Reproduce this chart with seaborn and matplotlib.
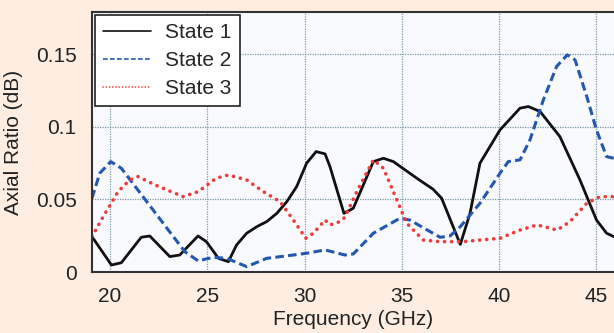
import numpy as np
import pandas as pd
import matplotlib
matplotlib.use("Agg")
import matplotlib.pyplot as plt
import seaborn as sns

# ---- data ----
s1_freq = [19.07, 20.07, 20.58, 21.6, 22.04, 23.07, 23.58, 24.52, 24.95, 25.57, 26.08, 26.5,
           27.02, 27.54, 28.05, 28.57, 29.08, 29.59, 30.1, 30.59, 31.05, 31.3, 32.02, 32.5,
           33.53, 34.05, 34.56, 35.76, 36.6, 37.04, 38.0, 38.5, 39.01, 40.04, 41.07, 41.5,
           42.1, 43.12, 44.15, 45.0, 45.52, 45.9]
s1_ar = [0.0243, 0.0048, 0.0064, 0.0239, 0.0248, 0.0106, 0.0117, 0.0248, 0.0209, 0.0094, 0.0071, 0.0186,
         0.0267, 0.0312, 0.0347, 0.0404, 0.0484, 0.0588, 0.0749, 0.0829, 0.0813, 0.0726, 0.0404, 0.0439,
         0.076, 0.0783, 0.076, 0.0646, 0.057, 0.0508, 0.0190, 0.0404, 0.0749, 0.0978, 0.1128, 0.1139,
         0.1105, 0.0932, 0.0634, 0.0358, 0.0267, 0.0243]

s2_freq = [19.07, 19.47, 20.03, 20.58, 23.84, 24.52, 25.31, 26.0, 27.02, 28.05, 29.42, 30.1,
           31.05, 32.07, 32.5, 33.53, 34.9, 35.4, 36.96, 37.47, 38.0, 39.01, 40.04, 40.47,
           41.07, 41.58, 42.27, 42.95, 43.5, 43.9, 44.5, 45.0, 45.52, 45.9]
s2_ar = [0.0508, 0.068, 0.076, 0.0714, 0.014, 0.0077, 0.0101, 0.0094, 0.0037, 0.0094, 0.0117, 0.0129,
         0.0152, 0.0117, 0.0124, 0.0267, 0.037, 0.0358, 0.0239, 0.0248, 0.0312, 0.0473, 0.068, 0.076,
         0.0772, 0.0909, 0.1185, 0.1415, 0.1495, 0.146, 0.1208, 0.0978, 0.0794, 0.0783]

s3_freq = [19.07, 19.64, 20.41, 21.01, 21.44, 22.3, 23.75, 24.52, 25.46, 26.08, 27.02, 27.88,
           28.74, 29.42, 30.06, 30.45, 31.05, 31.3, 31.82, 32.07, 32.68, 33.53, 34.05, 34.56,
           35.25, 36.1, 36.96, 38.16, 39.01, 40.04, 41.07, 41.95, 42.98, 43.64, 44.5, 45.18, 45.9]
s3_ar = [0.0243, 0.038, 0.0553, 0.0634, 0.0657, 0.06, 0.0519, 0.0553, 0.0646, 0.0668, 0.0634, 0.0553,
         0.0484, 0.0358, 0.0232, 0.0267, 0.0358, 0.0324, 0.0347, 0.0377, 0.0553, 0.0772, 0.0714, 0.0553,
         0.0335, 0.022, 0.0209, 0.0209, 0.022, 0.0232, 0.0289, 0.0324, 0.0289, 0.0347, 0.0473, 0.0519, 0.0519]

labels = ["State 1", "State 2", "State 3"]
x_ticks = [20, 25, 30, 35, 40, 45]
y_ticks = [0, 0.05, 0.1, 0.15]
y_ticklabels = ["0", "0.05", "0.1", "0.15"]

df = pd.concat([
    pd.DataFrame({"Frequency": s1_freq, "AR": s1_ar, "State": labels[0]}),
    pd.DataFrame({"Frequency": s2_freq, "AR": s2_ar, "State": labels[1]}),
    pd.DataFrame({"Frequency": s3_freq, "AR": s3_ar, "State": labels[2]}),
], ignore_index=True)

sns.set_theme(style="white")
plt.rcParams["font.family"] = ["Liberation Sans", "DejaVu Sans"]

bg = "#FDEEE1"
fs = 15
fig = plt.figure(figsize=(6.14, 3.33), dpi=100, facecolor=bg)
ax = fig.add_axes([92/614, 1 - 272/333, 1 - 92/614, (272 - 12)/333])
ax.set_facecolor("#F9FAFE")

colors = {labels[0]: "#111111", labels[1]: "#2458B0", labels[2]: "#EE3B3B"}
styles = {labels[0]: "-", labels[1]: (0, (2.8, 1.4)), labels[2]: (0, (0.05, 1.9))}

for lab in labels:
    sub = df[df["State"] == lab]
    sns.lineplot(data=sub, x="Frequency", y="AR", ax=ax, color=colors[lab],
                 lw=2.2 if lab != labels[0] else 2.0, label=lab, sort=False,
                 estimator=None)
    line = ax.get_lines()[-1]
    line.set_linestyle(styles[lab])
    if lab == labels[2]:
        line.set_dash_capstyle("round")
        line.set_linewidth(2.6)

ax.set_xlim(19.07, 45.9)
ax.set_ylim(0, 0.179)
ax.set_xticks(x_ticks)
ax.set_yticks(y_ticks)
ax.set_yticklabels(y_ticklabels)
ax.tick_params(axis="y", length=0, labelsize=fs, colors="#222222", pad=11)
ax.tick_params(axis="x", length=0, labelsize=fs, colors="#222222", pad=11)
ax.grid(True, linestyle=(0, (1, 1)), color="#7E9AA6", lw=0.9)
for s in ["left", "top", "bottom"]:
    ax.spines[s].set_color("#333333")
    ax.spines[s].set_linewidth(1.5)
ax.spines["right"].set_visible(False)
ax.set_xlabel("Frequency (GHz)", fontsize=fs, color="#222222", labelpad=3)
ax.set_ylabel("Axial Ratio (dB)", fontsize=fs, color="#222222", labelpad=9)

leg = ax.legend(loc="upper left", fontsize=fs, frameon=True, fancybox=False,
                borderaxespad=0.15, handlelength=2.3, handletextpad=0.65,
                labelspacing=0.42, borderpad=0.4)
leg.get_frame().set_edgecolor("#222222")
leg.get_frame().set_linewidth(1.2)
leg.get_frame().set_facecolor("white")
leg.get_frame().set_alpha(1)
for h in leg.get_lines():
    h.set_linewidth(1.2)

fig.savefig("out.png", dpi=100, facecolor=bg)
